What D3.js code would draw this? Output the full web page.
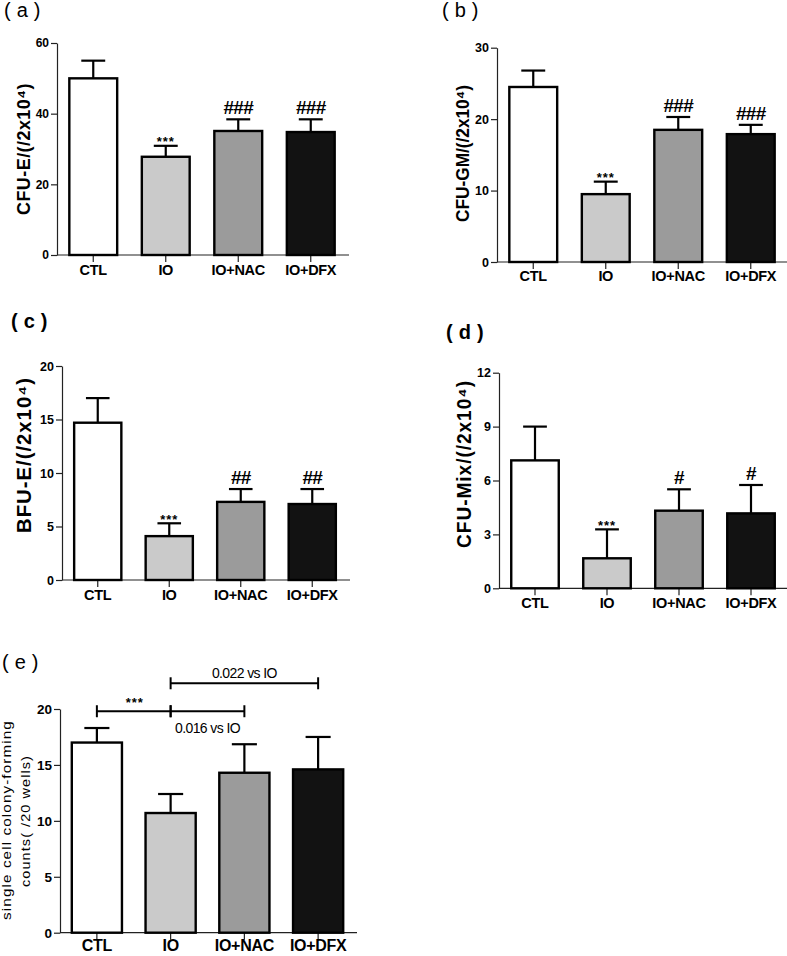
<!DOCTYPE html>
<html>
<head>
<meta charset="utf-8">
<script src="https://cdn.jsdelivr.net/npm/d3@7"></script>
<style>
  html, body { margin: 0; padding: 0; background: #fff; }
  svg { display: block; font-family: "Liberation Sans", Arial, sans-serif; }
</style>
</head>
<body>
<svg id="chart" width="787" height="956"></svg>
<script>
// ---------- DATA ----------
const categories = ["CTL", "IO", "IO+NAC", "IO+DFX"];
const barColors = ["#ffffff", "#cacaca", "#9b9b9b", "#121212"];

const cfuEMean = [50, 27.8, 35.1, 34.8];
const cfuESem = [5.0, 3.1, 3.3, 3.6];
const cfuEMarks = ["", "***", "###", "###"];
const cfuETicks = [0, 20, 40, 60];

const cfuGMMean = [24.5, 9.5, 18.5, 17.9];
const cfuGMSem = [2.3, 1.75, 1.8, 1.3];
const cfuGMMarks = ["", "***", "###", "###"];
const cfuGMTicks = [0, 10, 20, 30];

const bfuEMean = [14.7, 4.1, 7.3, 7.1];
const bfuESem = [2.3, 1.2, 1.2, 1.4];
const bfuEMarks = ["", "***", "##", "##"];
const bfuETicks = [0, 5, 10, 15, 20];

const cfuMixMean = [7.12, 1.67, 4.32, 4.17];
const cfuMixSem = [1.88, 1.61, 1.19, 1.58];
const cfuMixMarks = ["", "***", "#", "#"];
const cfuMixTicks = [0, 3, 6, 9, 12];

const singleMean = [17.0, 10.7, 14.3, 14.6];
const singleSem = [1.3, 1.7, 2.55, 2.9];
const singleTicks = [0, 5, 10, 15, 20];
// comparison brackets: [from category, to category, level, label, label side]
const singleBrackets = [
  ["CTL", "IO", 19.8, "***", "above"],
  ["IO", "IO+NAC", 19.8, "0.016 vs IO", "below"],
  ["IO", "IO+DFX", 22.3, "0.022 vs IO", "above"]
];

// ---------- DRAW ----------
const svg = d3.select("#chart");

function panel(opt) {
  const g = svg.append("g");
  const x = d3.scaleBand().domain(categories)
    .range([opt.x0, opt.x0 + opt.width])
    .paddingInner(opt.padIn).paddingOuter(opt.padOut);
  const ymax = opt.ticks[opt.ticks.length - 1];
  const y = d3.scaleLinear().domain([0, ymax]).range([opt.y0, opt.yTop]);

  // y axis
  const yAxis = d3.axisLeft(y).tickValues(opt.ticks).tickSize(6).tickPadding(2).tickSizeOuter(0);
  const ya = g.append("g").attr("transform", `translate(${opt.x0},0)`).call(yAxis);
  ya.select(".domain").attr("stroke", "#222").attr("stroke-width", 1.2);
  ya.selectAll(".tick line").attr("stroke", "#222").attr("stroke-width", 1.2);
  ya.selectAll(".tick text").attr("font-size", opt.tickFont).attr("font-weight", "bold")
    .attr("fill", "#000").attr("font-family", "Liberation Sans, Arial, sans-serif");

  // x axis
  const xAxis = d3.axisBottom(x).tickSize(7).tickSizeOuter(0).tickPadding(opt.xPad);
  const xa = g.append("g").attr("transform", `translate(0,${opt.y0})`).call(xAxis);
  xa.select(".domain").attr("stroke", "#222").attr("stroke-width", 1.2)
    .attr("d", `M${opt.x0},0H${opt.x0 + opt.width + 2}`);
  xa.selectAll(".tick line").attr("stroke", "#222").attr("stroke-width", 1.2);
  xa.selectAll(".tick text").attr("font-size", opt.xFont).attr("font-weight", "bold")
    .attr("fill", "#000").attr("font-family", "Liberation Sans, Arial, sans-serif")
    .attr("letter-spacing", opt.xLs);

  const data = categories.map((c, i) => ({ c, i, m: opt.mean[i], s: opt.sem[i] }));

  // error bars (upper only)
  const eb = g.append("g").attr("stroke", "#000").attr("stroke-width", 2.2);
  data.forEach(d => {
    const cx = x(d.c) + x.bandwidth() / 2;
    eb.append("line").attr("x1", cx).attr("x2", cx).attr("y1", y(d.m)).attr("y2", y(d.m + d.s));
    eb.append("line").attr("x1", cx - x.bandwidth() / 4).attr("x2", cx + x.bandwidth() / 4)
      .attr("y1", y(d.m + d.s)).attr("y2", y(d.m + d.s));
  });

  // bars
  g.selectAll("rect.bar").data(data).enter().append("rect")
    .attr("x", d => x(d.c)).attr("width", x.bandwidth())
    .attr("y", d => y(d.m)).attr("height", d => y(0) - y(d.m))
    .attr("fill", d => barColors[d.i]).attr("stroke", "#000").attr("stroke-width", 2.4);

  // significance marks
  if (opt.marks) {
    data.forEach(d => {
      const mk = opt.marks[d.i];
      if (!mk) return;
      const cx = x(d.c) + x.bandwidth() / 2;
      const top = y(d.m + d.s);
      if (mk.startsWith("*")) {
        g.append("text").attr("x", cx).attr("y", top + 0.5).attr("text-anchor", "middle")
          .attr("font-size", 13).attr("font-weight", "bold").attr("letter-spacing", 1)
          .text(mk);
      } else {
        g.append("text").attr("x", cx).attr("y", top - 5).attr("text-anchor", "middle")
          .attr("font-size", 19).attr("font-weight", "bold").attr("letter-spacing", -0.8)
          .text(mk);
      }
    });
  }

  // brackets
  if (opt.brackets) {
    const br = g.append("g").attr("stroke", "#000").attr("stroke-width", 2);
    opt.brackets.forEach(b => {
      const xa1 = x(b[0]) + x.bandwidth() / 2;
      const xb1 = x(b[1]) + x.bandwidth() / 2;
      const by = y(b[2]);
      br.append("line").attr("x1", xa1).attr("x2", xb1).attr("y1", by).attr("y2", by);
      br.append("line").attr("x1", xa1).attr("x2", xa1).attr("y1", by - 6).attr("y2", by + 6);
      br.append("line").attr("x1", xb1).attr("x2", xb1).attr("y1", by - 6).attr("y2", by + 6);
      const mid = (xa1 + xb1) / 2;
      if (b[3].startsWith("*")) {
        g.append("text").attr("x", mid + 1).attr("y", by - 4).attr("text-anchor", "middle")
          .attr("font-size", 13).attr("font-weight", "bold").attr("letter-spacing", 1).text(b[3]);
      } else {
        g.append("text").attr("x", mid).attr("y", b[4] === "above" ? by - 5 : by + 22)
          .attr("text-anchor", "middle").attr("font-size", 14).attr("letter-spacing", -0.6)
          .text(b[3]);
      }
    });
  }

  // panel label
  g.append("text").attr("x", opt.lab[0]).attr("y", opt.lab[1]).attr("font-size", 20)
    .attr("font-weight", opt.labBold ? "bold" : "normal").attr("letter-spacing", 6)
    .text(opt.label);

  // y-axis title (stretched along its direction to the reference length)
  opt.title.forEach(t => {
    const tt = g.append("text")
      .attr("text-anchor", "middle")
      .attr("font-size", t.fs).attr("font-weight", t.bold ? "bold" : "normal")
      .attr("letter-spacing", t.ls || 0)
      .text(t.text);
    const w = tt.node().getComputedTextLength();
    const k = w > 0 ? t.len / w : 1;
    tt.attr("transform", `translate(${t.bx},${t.cy}) rotate(-90) scale(${k},1)`);
  });
}

panel({
  x0: 57, y0: 255, yTop: 43, width: 290, padIn: 0.34, padOut: 0.17,
  ticks: cfuETicks, mean: cfuEMean, sem: cfuESem, marks: cfuEMarks,
  tickFont: 12, xFont: 14.5, xPad: 3, xLs: -0.3,
  label: "(a)", lab: [4, 17], labBold: false,
  title: [{ text: "CFU-E/(/2x10\u2074)", bx: 30, cy: 149, len: 132, fs: 19, bold: true, ls: 0.5 }]
});

panel({
  x0: 497, y0: 262, yTop: 47.7, width: 290, padIn: 0.34, padOut: 0.17,
  ticks: cfuGMTicks, mean: cfuGMMean, sem: cfuGMSem, marks: cfuGMMarks,
  tickFont: 12.5, xFont: 14.5, xPad: 2, xLs: -0.3,
  label: "(b)", lab: [442, 17], labBold: false,
  title: [{ text: "CFU-GM/(/2x10\u2074)", bx: 469, cy: 153.5, len: 137, fs: 19, bold: true }]
});

panel({
  x0: 62, y0: 580, yTop: 366, width: 286, padIn: 0.34, padOut: 0.17,
  ticks: bfuETicks, mean: bfuEMean, sem: bfuESem, marks: bfuEMarks,
  tickFont: 12.5, xFont: 14.5, xPad: 3, xLs: -0.3,
  label: "(c)", lab: [11, 328], labBold: true,
  title: [{ text: "BFU-E/(/2x10\u2074)", bx: 31, cy: 455, len: 156, fs: 20, bold: true, ls: 1 }]
});

panel({
  x0: 499, y0: 588.3, yTop: 372.7, width: 288, padIn: 0.34, padOut: 0.17,
  ticks: cfuMixTicks, mean: cfuMixMean, sem: cfuMixSem, marks: cfuMixMarks,
  tickFont: 12.5, xFont: 14.5, xPad: 2, xLs: -0.3,
  label: "(d)", lab: [446, 339], labBold: true,
  title: [{ text: "CFU-Mix/(/2x10\u2074)", bx: 471, cy: 464, len: 168, fs: 20, bold: true, ls: 1 }]
});

panel({
  x0: 60, y0: 932.7, yTop: 709, width: 295, padIn: 0.32, padOut: 0.16,
  ticks: singleTicks, mean: singleMean, sem: singleSem, brackets: singleBrackets,
  tickFont: 13.5, xFont: 16, xPad: 0, xLs: -0.3,
  label: "(e)", lab: [2, 669], labBold: false,
  title: [
    { text: "single cell colony-forming", bx: 11, cy: 820, len: 200, fs: 13.5, bold: false, ls: 1 },
    { text: "counts( /20 wells)", bx: 29.5, cy: 821, len: 132, fs: 13.5, bold: false, ls: 1 }
  ]
});
</script>
</body>
</html>
